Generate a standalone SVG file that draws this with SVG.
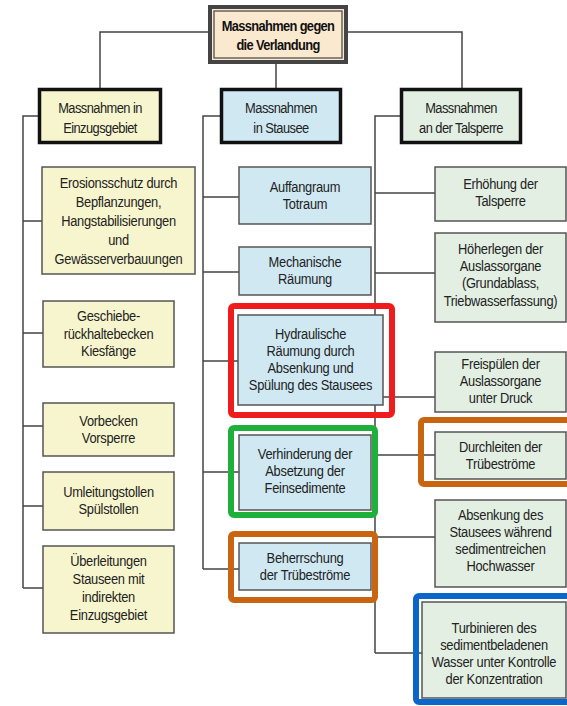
<svg xmlns="http://www.w3.org/2000/svg" width="567" height="706" viewBox="0 0 567 706">
<style>
text{font-family:"Liberation Sans",Arial,sans-serif;font-size:14px;fill:#222;text-anchor:middle;letter-spacing:-0.3px}
.root text{font-weight:bold;fill:#111;letter-spacing:-0.7px}
.hd text{letter-spacing:-0.6px}
.wire{fill:none;stroke:#444;stroke-width:1.5}
.hdr{stroke:#111;stroke-width:3.5}
.box{stroke:#555;stroke-width:1.5}
.y{fill:#f7f5cd}.b{fill:#cfe8f2}.g{fill:#e2efe2}
.hl{fill:none;stroke-width:6}
</style>
<rect width="567" height="706" fill="#fff"/>
<g id="connectors" class="wire">
<path d="M208,32H100V88M348,32H462V88M276,64V88"/>
<path d="M38,116H23V588M23,221H42M23,333H43M23,426H43M23,506H43M23,588H43"/>
<path d="M220,116H203V569M203,197H239M203,272H239M203,361H238M203,472H239M203,569H239"/>
<path d="M400,116H375V653M375,193H435M375,273H435M375,397H435M375,455H435M375,537H435M375,653H422"/>
</g>
<g id="root" class="root">
<rect x="210" y="7" width="136" height="55" fill="#fbe9cf" stroke="#444" stroke-width="4"/>
<rect x="214" y="11" width="128" height="47" fill="none" stroke="#444" stroke-width="1.2"/>
<g transform="scale(0.92,1)"><text x="302.17" y="31">Massnahmen gegen</text><text x="302.17" y="50">die Verlandung</text></g>
</g>
<g id="h1" class="hd"><rect class="hdr y" x="39.5" y="89.5" width="121" height="53"/><g transform="scale(0.92,1)"><text x="108.7" y="113">Massnahmen in</text><text x="108.7" y="133">Einzugsgebiet</text></g></g>
<g id="h2" class="hd"><rect class="hdr b" x="221.5" y="89.5" width="119" height="53"/><g transform="scale(0.92,1)"><text x="305.43" y="113">Massnahmen</text><text x="305.43" y="133">in Stausee</text></g></g>
<g id="h3" class="hd"><rect class="hdr g" x="401.5" y="89.5" width="119" height="53"/><g transform="scale(0.92,1)"><text x="501.09" y="113">Massnahmen</text><text x="501.09" y="133">an der Talsperre</text></g></g>

<g id="l1"><rect class="box y" x="42" y="167" width="153" height="107"/><g transform="scale(0.92,1)"><text x="128.8" y="188">Erosionsschutz durch</text><text x="128.8" y="207">Bepflanzungen,</text><text x="128.8" y="226">Hangstabilisierungen</text><text x="128.8" y="245">und</text><text x="128.8" y="264">Gewässerverbauungen</text></g></g>
<g id="l2"><rect class="box y" x="43" y="301" width="131" height="66"/><g transform="scale(0.92,1)"><text x="117.93" y="321.5">Geschiebe-</text><text x="117.93" y="339">rückhaltebecken</text><text x="117.93" y="356.5">Kiesfänge</text></g></g>
<g id="l3"><rect class="box y" x="43" y="403" width="131" height="53"/><g transform="scale(0.92,1)"><text x="117.93" y="426.5">Vorbecken</text><text x="117.93" y="443.5">Vorsperre</text></g></g>
<g id="l4"><rect class="box y" x="43" y="472" width="131" height="58"/><g transform="scale(0.92,1)"><text x="117.93" y="497.5">Umleitungstollen</text><text x="117.93" y="514.5">Spülstollen</text></g></g>
<g id="l5"><rect class="box y" x="43" y="546" width="131" height="87"/><g transform="scale(0.92,1)"><text x="117.93" y="566.5">Überleitungen</text><text x="117.93" y="584.5">Stauseen mit</text><text x="117.93" y="602.5">indirekten</text><text x="117.93" y="620.5">Einzugsgebiet</text></g></g>

<g id="m1"><rect class="box b" x="239" y="167" width="132" height="57"/><g transform="scale(0.92,1)"><text x="331.52" y="192.5">Auffangraum</text><text x="331.52" y="209.5">Totraum</text></g></g>
<g id="m2"><rect class="box b" x="239" y="247" width="132" height="48"/><g transform="scale(0.92,1)"><text x="331.52" y="267.5">Mechanische</text><text x="331.52" y="284.5">Räumung</text></g></g>
<g id="m3"><rect class="box b" x="238" y="315" width="145" height="90"/><g transform="scale(0.92,1)"><text x="337.5" y="339.5">Hydraulische</text><text x="337.5" y="356.5">Räumung durch</text><text x="337.5" y="373.5">Absenkung und</text><text x="337.5" y="390.5">Spülung des Stausees</text></g></g>
<g id="m4"><rect class="box b" x="239" y="435" width="132" height="75"/><g transform="scale(0.92,1)"><text x="331.52" y="459.5">Verhinderung der</text><text x="331.52" y="476.5">Absetzung der</text><text x="331.52" y="493.5">Feinsedimente</text></g></g>
<g id="m5"><rect class="box b" x="239" y="543" width="132" height="47"/><g transform="scale(0.92,1)"><text x="331.52" y="563.5">Beherrschung</text><text x="331.52" y="580.5">der Trübeströme</text></g></g>

<g id="r1"><rect class="box g" x="435" y="167" width="131" height="54"/><g transform="scale(0.92,1)"><text x="544.02" y="189.5">Erhöhung der</text><text x="544.02" y="206.5">Talsperre</text></g></g>
<g id="r2"><rect class="box g" x="435" y="233" width="131" height="89"/><g transform="scale(0.92,1)"><text x="544.02" y="254.5">Höherlegen der</text><text x="544.02" y="271.5">Auslassorgane</text><text x="544.02" y="288.5">(Grundablass,</text><text x="544.02" y="306.5">Triebwasserfassung)</text></g></g>
<g id="r3"><rect class="box g" x="435" y="352" width="131" height="60"/><g transform="scale(0.92,1)"><text x="544.02" y="369.5">Freispülen der</text><text x="544.02" y="386.5">Auslassorgane</text><text x="544.02" y="403.5">unter Druck</text></g></g>
<g id="r4"><rect class="box g" x="435" y="432" width="131" height="47"/><g transform="scale(0.92,1)"><text x="544.02" y="452.5">Durchleiten der</text><text x="544.02" y="469.5">Trübeströme</text></g></g>
<g id="r5"><rect class="box g" x="435" y="500" width="131" height="87"/><g transform="scale(0.92,1)"><text x="544.02" y="520.5">Absenkung des</text><text x="544.02" y="537.5">Stausees während</text><text x="544.02" y="554.5">sedimentreichen</text><text x="544.02" y="571.5">Hochwasser</text></g></g>
<g id="r6"><rect class="box g" x="422" y="602" width="144" height="96"/><g transform="scale(0.92,1)"><text x="536.96" y="633.5">Turbinieren des</text><text x="536.96" y="650.5">sedimentbeladenen</text><text x="536.96" y="667.5">Wasser unter Kontrolle</text><text x="536.96" y="684.5">der Konzentration</text></g></g>

<g id="highlights">
<rect class="hl" x="231" y="306" width="161" height="109" rx="3" stroke="#ee1c1c"/>
<rect class="hl" x="231" y="428" width="144" height="87" rx="3" stroke="#1fb03c"/>
<rect class="hl" x="231" y="534" width="144" height="66" rx="3" stroke="#c96510"/>
<rect class="hl" x="421" y="420" width="152" height="64" rx="3" stroke="#c96510"/>
<rect class="hl" x="416" y="596" width="157" height="106" rx="3" stroke="#0a66c8"/>
</g>
</svg>
